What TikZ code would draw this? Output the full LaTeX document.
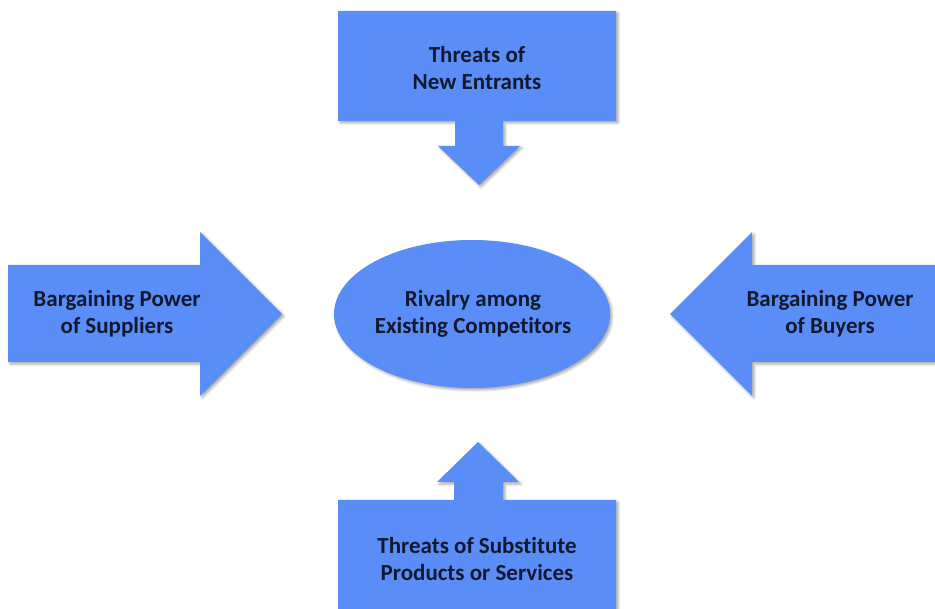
\documentclass[tikz,border=0pt]{standalone}
\usepackage{fontspec}
\setmainfont[Ligatures=NoCommon]{Carlito}
\usetikzlibrary{shapes.geometric,shadows.blur}
\definecolor{forcefill}{RGB}{90,141,245}
\definecolor{forcetext}{RGB}{18,24,48}
\begin{document}
\begin{tikzpicture}[x=1pt,y=-1pt,
  force/.style={fill=forcefill,
    blur shadow={shadow xshift=2pt,shadow yshift=-2pt,shadow blur radius=2.5pt,shadow opacity=35}},
  forcelabel/.style={text=forcetext,font=\fontsize{23}{27}\selectfont\bfseries,align=center,inner sep=0pt}]
\useasboundingbox (0,0) rectangle (935,609);

% Threats of new entrants: box with downward arrow
\path[force] (338,11) -- (616,11) -- (616,121) -- (503,121) -- (503,146) -- (520,146)
  -- (479,185) -- (438,146) -- (455,146) -- (455,121) -- (338,121) -- cycle;
\node[forcelabel] (entrants) at (477,68) {Threats of\\New Entrants};

% Bargaining power of suppliers: arrow pointing right
\path[force] (8,265) -- (200,265) -- (200,232) -- (282,314) -- (200,396) -- (200,362)
  -- (8,362) -- cycle;
\node[forcelabel] (suppliers) at (117,314) {Bargaining Power\\of Suppliers};

% Bargaining power of buyers: arrow pointing left
\path[force] (945,265) -- (752,265) -- (752,232) -- (670,314) -- (752,396) -- (752,362)
  -- (945,362) -- cycle;
\node[forcelabel] (buyers) at (830,314) {Bargaining Power\\of Buyers};

% Threats of substitutes: box with upward arrow
\path[force] (478,442) -- (519,482) -- (503,482) -- (503,500) -- (616,500) -- (616,620)
  -- (338,620) -- (338,500) -- (454,500) -- (454,482) -- (437,482) -- cycle;
\node[forcelabel] (substitutes) at (477,559) {Threats of Substitute\\Products or Services};

% Central rivalry
\node[force,ellipse,minimum width=276pt,minimum height=148pt,inner sep=0pt] (rivalryshape) at (472,314) {};
\node[forcelabel] (rivalry) at (473,314) {Rivalry among\\Existing Competitors};
\end{tikzpicture}
\end{document}
